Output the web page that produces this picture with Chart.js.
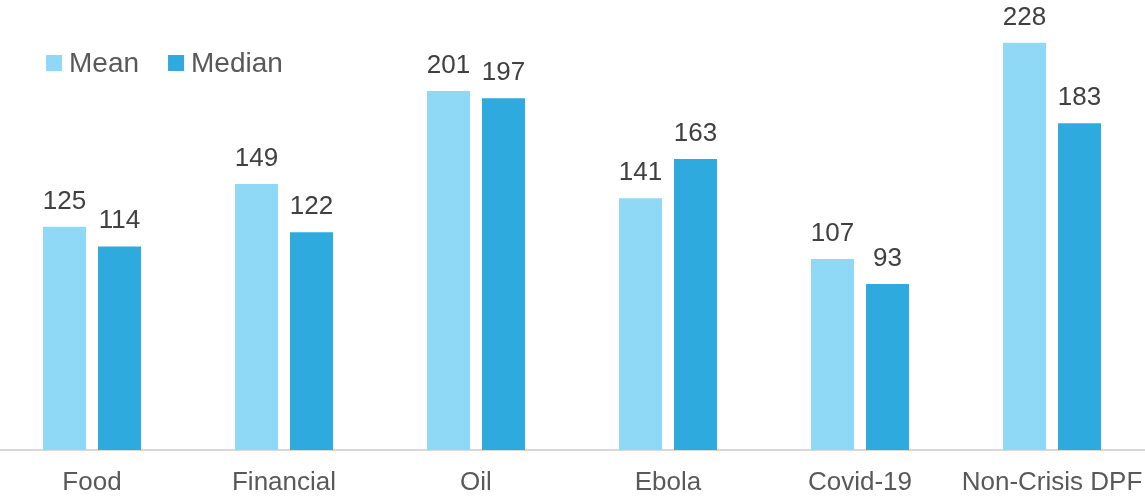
<!DOCTYPE html>
<html>
<head>
<meta charset="utf-8">
<script src="https://cdn.jsdelivr.net/npm/chart.js@4/dist/chart.umd.min.js"></script>
<style>
  html, body { margin: 0; padding: 0; background: #fff; overflow: hidden; }
  canvas { display: block; margin-left: -4px; }
</style>
</head>
<body>
<canvas id="grafico" width="1152" height="499"></canvas>
<script>
const categories = ['Food', 'Financial', 'Oil', 'Ebola', 'Covid-19', 'Non-Crisis DPF'];
const meanValues = [125, 149, 201, 141, 107, 228];
const medianValues = [114, 122, 197, 163, 93, 183];

const FONT = '"Liberation Sans", Arial, sans-serif';

// valores em cima de cada barra
const valueLabels = {
    id: 'valueLabels',
    afterDatasetsDraw(chart) {
        const ctx = chart.ctx;
        ctx.save();
        ctx.font = '26px ' + FONT;
        ctx.fillStyle = '#404040';
        ctx.textAlign = 'center';
        ctx.textBaseline = 'alphabetic';
        chart.data.datasets.forEach((ds, i) => {
            chart.getDatasetMeta(i).data.forEach((bar, j) => {
                ctx.fillText(ds.data[j], bar.x, bar.y - 18);
            });
        });
        ctx.restore();
    }
};

// legenda desenhada dentro da área do gráfico
const innerLegend = {
    id: 'innerLegend',
    afterDraw(chart) {
        const ctx = chart.ctx;
        ctx.save();
        ctx.font = '28px ' + FONT;
        ctx.textBaseline = 'middle';
        let x = 50;
        const y = 63;
        chart.data.datasets.forEach(ds => {
            ctx.fillStyle = ds.backgroundColor;
            ctx.fillRect(x, y - 8, 16, 16);
            ctx.fillStyle = '#595959';
            ctx.fillText(ds.label, x + 23, y + 1);
            x += 23 + ctx.measureText(ds.label).width + 29;
        });
        ctx.restore();
    }
};

new Chart(document.getElementById('grafico'), {
    type: 'bar',
    data: {
        labels: categories,
        datasets: [
            { label: 'Mean', data: meanValues, backgroundColor: '#8fd9f6' },
            { label: 'Median', data: medianValues, backgroundColor: '#2eaadf' }
        ]
    },
    options: {
        responsive: false,
        animation: false,
        layout: { padding: 0 },
        datasets: {
            bar: { categoryPercentage: 0.573, barPercentage: 0.782 }
        },
        plugins: {
            legend: { display: false },
            tooltip: { enabled: false }
        },
        scales: {
            x: {
                grid: { display: false, drawTicks: false },
                border: { display: true, color: '#d9d9d9', width: 2 },
                ticks: {
                    color: '#595959',
                    font: { size: 26, family: FONT },
                    padding: 17
                },
                afterFit(scale) {
                    // altura fixa do eixo e sem recuo lateral
                    scale.height = 49;
                    scale.paddingLeft = 0;
                    scale.paddingRight = 0;
                }
            },
            y: {
                display: false,
                min: 0,
                max: 252
            }
        }
    },
    plugins: [valueLabels, innerLegend]
});
</script>
</body>
</html>
